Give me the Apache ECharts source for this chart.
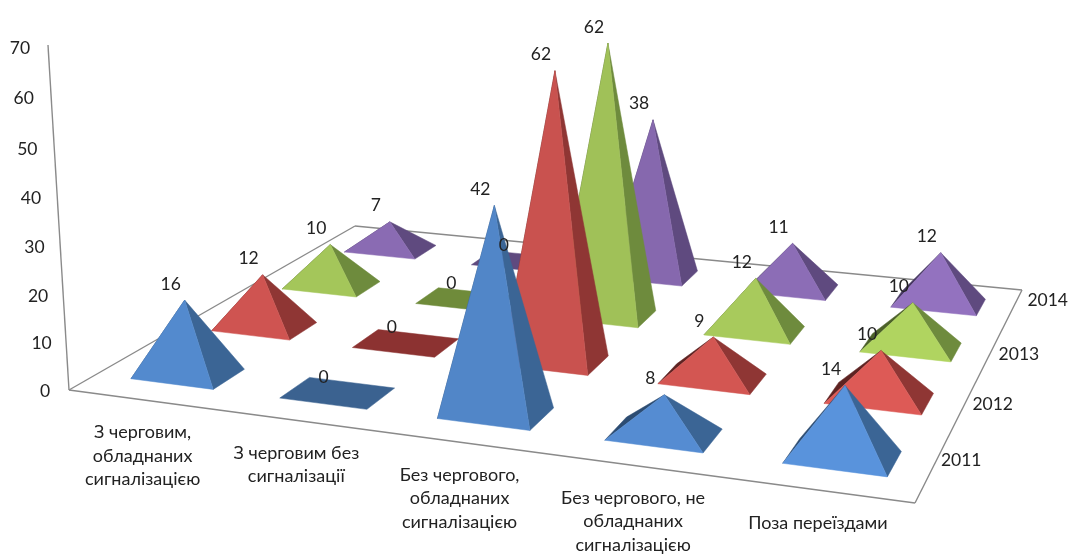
<!DOCTYPE html>
<html><head><meta charset="utf-8">
<style>html,body{margin:0;padding:0;background:#fff}#c{width:1070px;height:554px}</style>
<script src="https://cdn.jsdelivr.net/npm/echarts@6/dist/echarts.min.js"></script>
</head><body><div id="c"></div>
<script>
const categories = ["З черговим,\nобладнаних\nсигналізацією","З черговим без\nсигналізації","Без чергового,\nобладнаних\nсигналізацією","Без чергового, не\nобладнаних\nсигналізацією","Поза переїздами"];
const years = ["2011","2012","2013","2014"];
const values2011 = [16,0,42,8,14];
const values2012 = [12,0,62,9,10];
const values2013 = [10,0,62,12,10];
const values2014 = [7,0,38,11,12];
const yTicks = [0,10,20,30,40,50,60,70];
const allValues = [values2011,values2012,values2013,values2014];
const colors = [
 {front:"#5186C8",right:"#3B6595",left:"#2C4C72",flat:"#3B6290"},
 {front:"#C9524F",right:"#8F3634",left:"#5E2322",flat:"#8C3231"},
 {front:"#A0C158",right:"#6E8B3D",left:"#4C6129",flat:"#6F8B3A"},
 {front:"#8668AE",right:"#5F4A7F",left:"#453660",flat:"#5F4A7F"}
];
const faceLift = [0.03,0,0.0,0.05,0.1];
const yearOffsets = [[29,-8],[30,-4],[30,-2],[36,-10]];

/* perspective frame of the chart box */
const FL=[69,390],FR=[915,503],BR=[1022,290],BL=[355,226];
const VP=[555,8370],K=-0.000592;
const sx=FL[0]-FR[0]+BR[0]-BL[0], sy=FL[1]-FR[1]+BR[1]-BL[1];
const dx1=FR[0]-BR[0], dx2=BL[0]-BR[0], dy1=FR[1]-BR[1], dy2=BL[1]-BR[1];
const den=dx1*dy2-dx2*dy1;
const G=(sx*dy2-dx2*sy)/den, H=(dx1*sy-sx*dy1)/den;
const A=FR[0]-FL[0]+G*FR[0], B=BL[0]-FL[0]+H*BL[0], C=FL[0];
const D=FR[1]-FL[1]+G*FR[1], E=BL[1]-FL[1]+H*BL[1], F=FL[1];
function proj(u,v,z){
  const w=G*u+H*v+1+K*z;
  return [(A*u+B*v+C+K*VP[0]*z)/w,(D*u+E*v+F+K*VP[1]*z)/w];
}
const GW=1000,GH=500,YMAX=70;
function toUZ(api,cat,val){
  const p=api.coord([cat,val]);
  return [p[0]/GW,(GH-p[1])/GH*YMAX];
}
const DU=0.056,DV=0.049,USHIFT=0.004,ZSCALE=0.987;
const vOf=y=>(y+0.5)/years.length;
const font=s=>s+"px Lato, 'Open Sans', sans-serif";
const TXT="#222";

function pyramid(yi){
  return function(params,api){
    const cat=api.value(0),val=api.value(1);
    const [u0,z0]=toUZ(api,cat,val);
    const u=u0+USHIFT,z=z0*ZSCALE;
    const v=vOf(yi),c=colors[yi];
    const fl=proj(u-DU,v-DV,0),fr=proj(u+DU,v-DV,0),br=proj(u+DU,v+DV,0),bl=proj(u-DU,v+DV,0);
    const poly=(pts,fill)=>({type:'polygon',shape:{points:pts},style:{fill:fill,stroke:fill,lineWidth:0.5}});
    if(val===0) return {type:'group',silent:true,children:[poly([fl,fr,br,bl],c.flat)]};
    const ap=proj(u,v,z);
    const front=echarts.color.lift(c.front,-faceLift[cat]);
    return {type:'group',silent:true,children:[
      poly([bl,fl,ap],c.left),
      poly([fr,br,ap],c.right),
      poly([fl,fr,ap],front)
    ]};
  };
}
function valueLabels(yi){
  return function(params,api){
    const cat=api.value(0),val=api.value(1);
    const [u0,z0]=toUZ(api,cat,val);
    const ap=proj(u0+USHIFT,vOf(yi),z0*ZSCALE);
    return {type:'text',silent:true,style:{text:String(val),x:ap[0]-14,y:ap[1]-16,fill:TXT,font:font(17.5),align:'center',verticalAlign:'middle'}};
  };
}
function frame(){
  const lines=[[FL,proj(0,0,YMAX)],[FL,FR],[FR,BR],[BR,BL],[BL,FL]];
  return {type:'group',silent:true,children:lines.map(l=>({type:'line',shape:{x1:l[0][0],y1:l[0][1],x2:l[1][0],y2:l[1][1]},style:{stroke:'#8a8a8a',lineWidth:1.4}}))};
}
function tickLabel(params,api){
  const [u,z]=toUZ(api,0,api.value(1));
  const p=proj(0,0,z);
  return {type:'text',silent:true,style:{text:String(api.value(1)),x:p[0]-24-z/YMAX*4,y:p[1]+1+z/YMAX*2,fill:TXT,font:font(17.5),align:'center',verticalAlign:'middle'}};
}
function catLabel(params,api){
  const cat=api.value(0);
  const [u]=toUZ(api,cat,0);
  const p=proj(u,0,0);
  return {type:'text',silent:true,style:{text:categories[cat],x:p[0],y:p[1]+21,fill:TXT,font:font(18),lineHeight:23.5,align:'center',verticalAlign:'top'}};
}
function yearLabel(params,api){
  const yi=params.dataIndex;
  const p=proj(1,vOf(yi),0);
  const o=yearOffsets[yi];
  return {type:'text',silent:true,style:{text:years[yi],x:p[0]+o[0],y:p[1]+o[1],fill:TXT,font:font(17.5),align:'center',verticalAlign:'middle'}};
}
const series=[];
const base={type:'custom',coordinateSystem:'cartesian2d',encode:{x:0,y:1},animation:false,silent:true};
series.push({...base,name:'frame',z:1,data:[[0,0]],renderItem:frame});
for(let yi=years.length-1;yi>=0;yi--){
  series.push({...base,name:years[yi],z:2+(3-yi),data:allValues[yi].map((v,i)=>[i,v]),renderItem:pyramid(yi)});
}
for(let yi=0;yi<years.length;yi++){
  series.push({...base,name:years[yi]+' labels',z:10,data:allValues[yi].map((v,i)=>[i,v]),renderItem:valueLabels(yi)});
}
series.push({...base,name:'ticks',z:10,data:yTicks.map(t=>[0,t]),renderItem:tickLabel});
series.push({...base,name:'categories',z:10,data:categories.map((c,i)=>[i,0]),renderItem:catLabel});
series.push({...base,name:'years',z:10,data:years.map(()=>[0,0]),renderItem:yearLabel});

const chart=echarts.init(document.getElementById('c'),null,{renderer:'canvas'});
chart.setOption({
  backgroundColor:'#fff',animation:false,
  grid:{left:0,top:0,width:GW,height:GH},
  xAxis:{type:'category',data:categories,show:false},
  yAxis:{type:'value',min:0,max:YMAX,interval:10,show:false},
  tooltip:{show:false},
  series:series
});
</script></body></html>
